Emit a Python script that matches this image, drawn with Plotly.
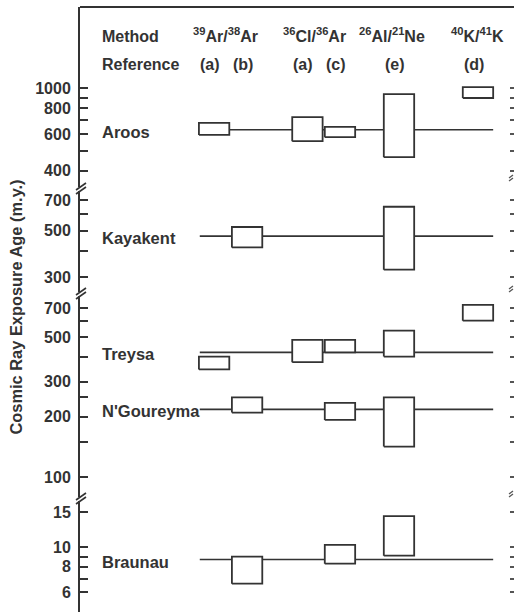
import math
import plotly.graph_objects as go

# ---------------- data ----------------
meteorites = ["Aroos", "Kayakent", "Treysa", "N'Goureyma", "Braunau"]
mean_age = [630, 470, 420, 218, 8.7]          # m.y. (horizontal line)
segment_of = [1, 2, 3, 3, 4]                   # which broken-axis segment

method_labels = ["<sup>39</sup>Ar/<sup>38</sup>Ar", "<sup>36</sup>Cl/<sup>36</sup>Ar",
                 "<sup>26</sup>Al/<sup>21</sup>Ne", "<sup>40</sup>K/<sup>41</sup>K"]
reference_labels = ["(a)", "(b)", "(a)", "(c)", "(e)", "(d)"]

# age ranges per column: 39Ar(a), 39Ar(b), 36Cl(a), 36Cl(c), 26Al(e), 40K(d)
aroos_low = [595, None, 555, 580, 465, 895]
aroos_high = [680, None, 725, 650, 935, 1010]
kayakent_low = [None, 415, None, None, 325, None]
kayakent_high = [None, 520, None, None, 650, None]
treysa_low = [345, None, 375, 420, 400, 605]
treysa_high = [400, None, 485, 485, 540, 725]
ngoureyma_low = [None, 210, None, 193, 142, None]
ngoureyma_high = [None, 250, None, 235, 250, None]
braunau_low = [None, 6.6, None, 8.3, 9.1, None]
braunau_high = [None, 9.0, None, 10.3, 14.3, None]

lows = [aroos_low, kayakent_low, treysa_low, ngoureyma_low, braunau_low]
highs = [aroos_high, kayakent_high, treysa_high, ngoureyma_high, braunau_high]

seg_major = {
    1: [400, 600, 800, 1000],
    2: [300, 500, 700],
    3: [100, 200, 300, 500, 700],
    4: [6, 8, 10, 15],
}
seg_minor = {
    1: [500, 700, 900],
    2: [400, 600],
    3: [150, 250, 400, 600],
    4: [7, 9],
}

# ---------------- layout constants ----------------
W, H = 514, 615
ML, MR, MT, MB = 80, 0, 7, 3
PW = W - ML - MR
PH = H - MT - MB
INK = "#333333"
FONT = "Liberation Sans, Arial, Helvetica, sans-serif"

def py(y):
    return (H - MB - y) / PH

def pxp(x):
    return (x - ML) / PW

COL_X = [3.09, 3.85, 5.24, 5.99, 7.35, 9.17]
BOX_HALF = 0.35
LINE_X0, LINE_X1 = 2.76, 9.52
NAME_X = 0.46

# segment geometry: (top px, bottom px, ref value, ref px, px per decade)
SEG_GEOM = {
    1: (MT, 189, 1000, 88, 208),
    2: (189, 294, 700, 200, 209),
    3: (294, 499, 700, 308, 200),
    4: (499, H - MB, 15, 512, 201),
}

def seg_range(s):
    top, bot, rv, rp, k = SEG_GEOM[s]
    lv = math.log10(rv)
    return [lv - (bot - rp) / k, lv + (rp - top) / k]

def yname(s):
    return "y" if s == 1 else f"y{s}"

fig = go.Figure()

# mean lines
for i, m in enumerate(meteorites):
    fig.add_trace(go.Scatter(
        x=[LINE_X0, LINE_X1], y=[mean_age[i], mean_age[i]], mode="lines",
        line=dict(color=INK, width=1.6), yaxis=yname(segment_of[i]),
        hoverinfo="skip", showlegend=False))

# boxes
for i, m in enumerate(meteorites):
    for j, (lo, hi) in enumerate(zip(lows[i], highs[i])):
        if lo is None:
            continue
        c = COL_X[j]
        fig.add_trace(go.Scatter(
            x=[c - BOX_HALF, c + BOX_HALF, c + BOX_HALF, c - BOX_HALF, c - BOX_HALF],
            y=[lo, lo, hi, hi, lo], mode="lines", fill="toself",
            fillcolor="white", line=dict(color=INK, width=1.8),
            yaxis=yname(segment_of[i]), hoverinfo="skip", showlegend=False))

# invisible traces for right-hand tick axes
for s in range(1, 5):
    fig.add_trace(go.Scatter(x=[0], y=[seg_major[s][0]], mode="markers",
                             marker=dict(opacity=0), yaxis=f"y{s + 4}",
                             hoverinfo="skip", showlegend=False))

layout = dict(
    width=W, height=H,
    margin=dict(l=ML, r=MR, t=MT, b=MB),
    paper_bgcolor="white", plot_bgcolor="white",
    font=dict(family=FONT, size=16, color=INK, weight="bold"),
    showlegend=False,
    xaxis=dict(range=[0, 10], domain=[0, 1], anchor="free", position=1, side="top",
               showline=True, linecolor=INK, linewidth=2, ticks="",
               showticklabels=False, showgrid=False, zeroline=False, fixedrange=True),
)

for s in range(1, 5):
    top, bot = SEG_GEOM[s][0], SEG_GEOM[s][1]
    dom = [py(bot), py(top)]
    rng = seg_range(s)
    key = "yaxis" if s == 1 else f"yaxis{s}"
    layout[key] = dict(
        type="log", domain=dom, range=rng, anchor="x",
        tickvals=seg_major[s], ticktext=[str(v) for v in seg_major[s]],
        ticks="inside", ticklen=8, tickwidth=1.6,
        tickcolor=INK, showline=True, linecolor=INK, linewidth=2,
        showgrid=False, zeroline=False, ticklabelstandoff=4,
        minor=dict(tickvals=seg_minor[s], ticks="inside", ticklen=8, tickwidth=1.6,
                   tickcolor=INK, showgrid=False),
        tickfont=dict(family=FONT, size=16, color=INK, weight="bold"))
    layout[f"yaxis{s + 4}"] = dict(
        type="log", range=rng, overlaying=yname(s), side="right", anchor="free",
        position=pxp(509), tickvals=sorted(seg_major[s] + seg_minor[s]),
        ticks="outside", ticklen=5, tickwidth=1.6,
        tickcolor="#555555", showline=False, showticklabels=False,
        showgrid=False, zeroline=False)

fig.update_layout(**layout)

# meteorite names
for i, m in enumerate(meteorites):
    fig.add_annotation(text=m, x=NAME_X, y=math.log10(mean_age[i]),
                       xref="x", yref=yname(segment_of[i]), xanchor="left",
                       yanchor="middle", yshift=-2, showarrow=False,
                       font=dict(size=16.5, color=INK, family=FONT, weight="bold"))

# header
fig.add_annotation(text="Method", x=pxp(100), y=py(47), xref="paper", yref="paper",
                   xanchor="left", yanchor="bottom", showarrow=False)
fig.add_annotation(text="Reference", x=pxp(100), y=py(64), xref="paper", yref="paper",
                   xanchor="left", yanchor="middle", showarrow=False)
METHOD_PX = [225, 314, 392, 477]
for lab, xp in zip(method_labels, METHOD_PX):
    fig.add_annotation(text=lab, x=pxp(xp), y=py(47), xref="paper", yref="paper",
                       xanchor="center", yanchor="bottom", showarrow=False)
for lab, cx in zip(reference_labels, COL_X):
    fig.add_annotation(text=lab, x=cx, y=py(64), xref="x", yref="paper", xshift=-4,
                       xanchor="center", yanchor="middle", showarrow=False)

# y-axis title
fig.add_annotation(text="Cosmic Ray Exposure Age (m.y.)", x=pxp(15.5), y=py(307),
                   xref="paper", yref="paper", textangle=-90, xanchor="center",
                   yanchor="middle", showarrow=False,
                   font=dict(size=16.4, color=INK, family=FONT, weight="bold"))

# axis break marks
shapes = []
for b in [189, 294, 499]:
    shapes.append(dict(type="rect", xref="paper", yref="paper",
                       x0=pxp(78), x1=pxp(84), y0=py(b + 2), y1=py(b - 2),
                       fillcolor="white", line=dict(width=0), layer="above"))
    for off in (0, 4):
        shapes.append(dict(type="line", xref="paper", yref="paper",
                           x0=pxp(76), y0=py(b + 1 + off), x1=pxp(86), y1=py(b - 6 + off),
                           line=dict(color=INK, width=1.6), layer="above"))
for b in [177, 288, 493]:
    for off in (0, 3):
        shapes.append(dict(type="line", xref="paper", yref="paper",
                           x0=pxp(509), y0=py(b + 1 + off), x1=pxp(513), y1=py(b - 2 + off),
                           line=dict(color="#555555", width=1.3), layer="above"))
fig.update_layout(shapes=shapes)

fig.write_html("out.html", config={"displayModeBar": False},
               post_script="document.body.style.margin='0';document.body.style.overflow='hidden';")
